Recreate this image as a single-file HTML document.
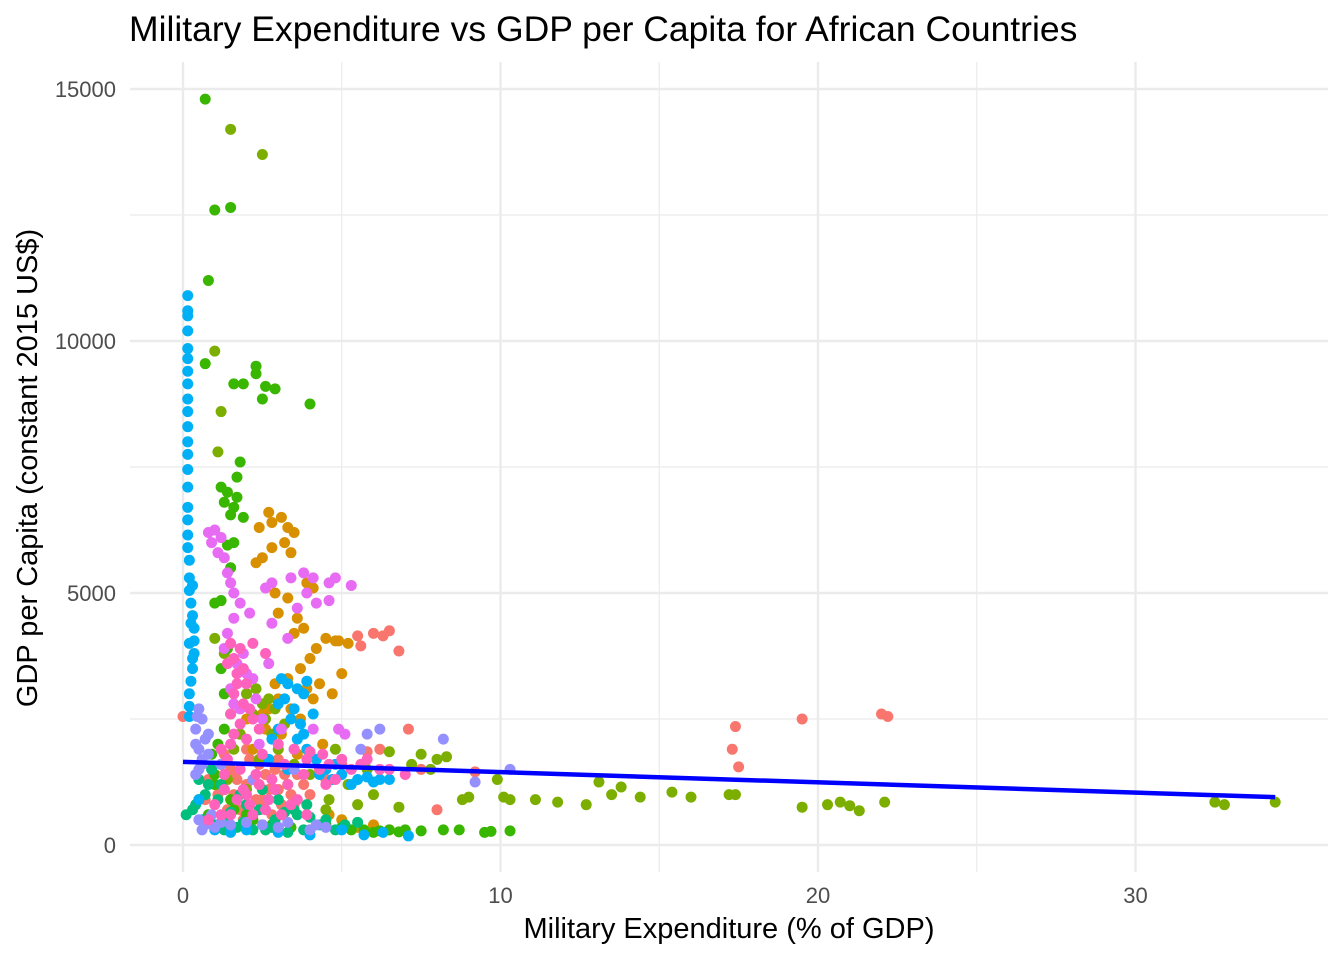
<!DOCTYPE html>
<html><head><meta charset="utf-8"><style>
html,body{margin:0;padding:0;background:#fff;}
svg text{font-family:"Liberation Sans",sans-serif;}
</style></head><body>
<svg id="chart" width="1344" height="960">
<text x="129" y="41" font-size="35.5" fill="#000">Military Expenditure vs GDP per Capita for African Countries</text>
<g id="grid"></g>
<g id="points"></g>
<g id="fit"></g>
<g id="axes"></g>
<text x="729" y="938" font-size="29" text-anchor="middle" fill="#000">Military Expenditure (% of GDP)</text>
<text transform="translate(37,468) rotate(-90)" font-size="29" text-anchor="middle" fill="#000">GDP per Capita (constant 2015 US$)</text>
</svg>
<script>
const xTicks=[0,10,20,30];
const yTicks=[0,5000,10000,15000];
const xMinor=[5,15,25];
const yMinor=[2500,7500,12500];
const colors=["#F8766D","#D89000","#7CAE00","#39B600","#00BF7D","#00B0F6","#9590FF","#E76BF3","#FF62BC"];
const seriesRed=[[0,2550],[5.5,4150],[5.6,3950],[6,4200],[6.3,4150],[6.5,4250],[6.8,3850],[7.1,2300],[6.2,1900],[5.8,1850],[7.5,1500],[8.0,700],[17.4,2350],[17.3,1900],[17.5,1550],[19.5,2500],[22,2600],[22.2,2550],[1.5,1500],[2,1200],[2.5,900],[3,1100],[1.8,700],[2.2,500],[3.5,800],[4,1000],[1.2,400],[2.8,600],[3.2,1400],[1.6,1000],[2.4,1600],[0.8,1300],[9.2,1450],[4.5,1300],[5,1600],[1.3,1800],[1.7,1300],[2.1,1700],[2.6,1400],[3.0,1700],[3.4,1000],[3.8,1200],[1.4,700],[1.9,500],[2.3,900],[2.7,1100],[3.1,800],[1.1,1000],[1.6,1400],[2.0,1900],[2.9,1500],[3.6,1400],[4.2,1700],[0.7,900]];
const seriesOrange=[[2.7,6600],[3.1,6500],[3.3,6300],[2.8,6400],[3.5,6200],[2.4,6300],[3.2,6000],[2.8,5900],[2.5,5700],[3.4,5800],[2.3,5600],[3.9,5200],[4.1,5100],[2.9,5000],[3.3,4900],[3.0,4600],[3.6,4500],[3.8,4300],[3.5,4200],[4.5,4100],[4.8,4050],[4.2,3900],[4.0,3700],[3.7,3500],[3.3,3300],[4.3,3200],[4.7,3000],[5.0,3400],[3.0,2900],[2.7,2700],[2.5,2600],[2.0,2500],[4.9,4050],[5.2,4000],[3.1,2200],[2.2,1900],[3.6,1800],[4.4,2000],[1.8,2200],[6,400],[5.5,350],[6.5,300],[5,500],[4.6,600],[3.4,2700],[3.9,3100],[4.1,2900],[2.6,2300],[2.9,3200],[3.7,2500]];
const seriesOlive=[[1.5,14200],[2.5,13700],[1.0,9800],[1.2,8600],[1.1,7800],[1.0,4100],[1.3,3800],[2,3000],[2.5,2800],[2.9,2700],[2.6,2500],[3.2,2400],[1.8,2200],[4.8,1900],[6.5,1850],[7.5,1800],[8.0,1700],[8.3,1750],[7.2,1600],[7.8,1500],[8.8,900],[9,950],[9.9,1300],[10.1,950],[10.3,900],[11.1,900],[11.8,850],[12.7,800],[13.1,1250],[13.5,1000],[13.8,1150],[14.4,950],[15.4,1050],[16,950],[17.2,1000],[17.4,1000],[19.5,750],[20.3,800],[20.7,850],[21,780],[21.3,680],[22.1,850],[32.5,850],[32.8,800],[34.4,850],[5.5,800],[6.8,750],[4.5,700],[5.8,1500],[2.2,2600],[2.8,2200],[3.0,1900],[2.4,1700],[1.6,1900],[3.5,1600],[4.0,1400],[4.6,900],[5.2,1200],[6.0,1000],[2.0,1100],[1.4,1300],[3.3,1200],[2.7,2900],[2.3,3100]];
const seriesGreen=[[0.7,14800],[1.0,12600],[1.5,12650],[0.8,11200],[0.7,9550],[2.3,9500],[2.3,9350],[1.6,9150],[1.9,9150],[2.6,9100],[2.9,9050],[2.5,8850],[4.0,8750],[1.8,7600],[1.7,7300],[1.2,7100],[1.4,7000],[1.3,6800],[1.6,6700],[1.5,6550],[1.9,6500],[1.7,6900],[1.4,5950],[1.6,6000],[1.5,5500],[1.2,4850],[1.0,4800],[0.9,1800],[1,1400],[1.3,1100],[1.5,900],[2,600],[2.5,400],[3,350],[4,300],[5,350],[5.7,300],[6.5,300],[7,300],[7.5,280],[8.2,300],[8.7,300],[9.5,250],[9.7,270],[10.3,280],[6,250],[0.5,900],[0.8,600],[1.2,1600],[1.1,2000],[1.3,2300],[1.0,1200],[1.6,700],[2.2,500],[2.8,400],[3.4,350],[4.5,400],[5.3,300],[6.2,280],[6.8,260],[1.4,3900],[1.2,3500],[1.3,3000],[1.5,2600]];
const seriesTeal=[[0.1,600],[0.3,700],[0.6,500],[1,400],[1.3,300],[1.7,350],[2.2,300],[2.8,350],[3.3,250],[3.8,300],[4.3,400],[1.2,1200],[0.9,1500],[2.5,1100],[3,900],[3.5,700],[4.5,500],[5.5,450],[2,800],[1.5,650],[0.7,1000],[3.6,600],[4.8,300],[0.4,800],[0.8,1200],[1.1,900],[1.4,500],[1.9,450],[2.4,700],[2.9,500],[3.2,650],[4.0,550],[0.5,1300],[1.8,1000],[2.6,300],[3.9,800],[5.1,400]];
const seriesBlue=[[0.15,10900],[0.15,10600],[0.15,10500],[0.15,10200],[0.15,9850],[0.15,9650],[0.15,9400],[0.15,9150],[0.15,8850],[0.15,8600],[0.15,8300],[0.15,8000],[0.15,7750],[0.15,7450],[0.15,7100],[0.15,6700],[0.15,6450],[0.15,6150],[0.15,5900],[0.2,5650],[0.2,5300],[0.2,5050],[0.25,4800],[0.3,4550],[0.35,4300],[0.35,4050],[0.35,3800],[0.3,3500],[0.25,3250],[0.2,3000],[0.2,2750],[0.2,2550],[3.1,3300],[3.3,3200],[3.6,3100],[3.8,3000],[3.9,3250],[3.2,2900],[3.5,2700],[3.4,2500],[3.0,2300],[3.6,2100],[3.9,1900],[4.2,1700],[4.5,1500],[4.7,1300],[5.0,1400],[5.5,1300],[6.0,1250],[6.5,1300],[3.3,1500],[2.7,1700],[0.5,900],[1,300],[1.5,250],[2,300],[3,250],[4,200],[5,300],[5.7,200],[6.3,250],[7.1,180],[0.2,4000],[0.3,3700],[0.25,4400],[0.3,5150],[3.7,2400],[4.0,1800],[4.3,1400],[4.8,1600],[5.3,1200],[5.8,1350],[3.5,1900],[3.8,2200],[4.1,2600],[3.0,2800],[2.8,2100],[6.2,1300]];
const seriesLav=[[0.5,2700],[0.6,2500],[0.4,2300],[0.7,2100],[0.5,1900],[0.8,1800],[0.6,1600],[0.4,1400],[0.5,500],[0.7,400],[0.6,300],[1,350],[1.5,400],[2,450],[3,350],[4,300],[4.5,350],[6.2,2300],[5.8,2200],[8.2,2100],[9.2,1250],[10.3,1500],[5.6,1900],[1.2,1600],[2.2,1300],[3.5,1500],[0.4,2000],[0.6,1700],[0.8,2200],[0.5,1500],[0.9,600],[1.2,450],[2.5,400],[3.3,450],[4.2,400],[0.45,2550]];
const seriesMag=[[0.8,6200],[1,6250],[1.2,6100],[0.9,6000],[1.1,5800],[1.3,5700],[1.4,5400],[1.5,5200],[1.6,5000],[1.8,4800],[2.6,5100],[2.8,5200],[3.4,5300],[3.8,5400],[4.1,5300],[4.6,5200],[4.8,5300],[5.3,5150],[3.9,5000],[4.2,4800],[4.6,4850],[2.1,4600],[1.6,4500],[2.8,4400],[1.3,3900],[1.7,3600],[2,3400],[1.5,3100],[2.3,2900],[1.8,2700],[2.5,2500],[3.1,2300],[4.1,2300],[4.9,2300],[5.1,2200],[2.4,2000],[1.4,4200],[1.9,3800],[2.2,3300],[1.6,2800],[2.7,3600],[3.3,4100],[3.6,4700]];
const seriesPink=[[1.5,4000],[1.8,3900],[2.2,4000],[2.6,3800],[1.4,3600],[1.7,3400],[2.0,3200],[1.6,3000],[1.9,2800],[1.5,2600],[2.2,2500],[2.4,2300],[1.6,2200],[2.0,2100],[3.0,2000],[3.5,1900],[4.0,1850],[4.4,1800],[5.0,1700],[5.6,1600],[6.2,1500],[7,1400],[1.2,1900],[1.4,1700],[1.8,1500],[2.3,1400],[2.8,1300],[3.3,1200],[3.8,1400],[4.3,1500],[4.8,1300],[1.3,1100],[1.7,900],[2.1,800],[2.6,700],[3.1,600],[3.6,900],[1.0,800],[1.5,600],[0.8,500],[2.0,1000],[2.9,1100],[1.6,3700],[1.9,3500],[1.7,3200],[2.1,2700],[1.8,2400],[1.5,2000],[2.5,1800],[3.2,1600],[3.9,1700],[4.6,1600],[5.3,1500],[1.3,1400],[2.4,1200],[1.9,1100],[2.7,900],[3.4,800],[1.2,600],[2.2,600],[3.9,600],[4.5,1200],[5.8,1700],[6.5,1500]];
const allSeries=[[seriesRed,0],[seriesOrange,1],[seriesOlive,2],[seriesGreen,3],[seriesTeal,4],[seriesBlue,5],[seriesLav,6],[seriesMag,7],[seriesPink,8]];
const fitX=[0,34.4];
const fitY=[1650,950];

const NS="http://www.w3.org/2000/svg";
const X=v=>183+v*31.75;
const Y=v=>845-v*0.0504;
const PL=130,PR=1328,PT=62,PB=872;
function mk(tag,at,parent){const e=document.createElementNS(NS,tag);for(const k in at)e.setAttribute(k,at[k]);parent.appendChild(e);return e;}
const grid=document.getElementById('grid'),axes=document.getElementById('axes'),pts=document.getElementById('points'),fit=document.getElementById('fit');
xMinor.forEach(v=>{const l=mk('line',{x1:X(v),x2:X(v),y1:PT,y2:PB,stroke:'#ebebeb','stroke-width':1.2},grid);

});
yMinor.forEach(v=>{const l=mk('line',{x1:PL,x2:PR,y1:Y(v),y2:Y(v),stroke:'#ebebeb','stroke-width':1.2},grid);

});
xTicks.forEach(v=>{const l=mk('line',{x1:X(v),x2:X(v),y1:PT,y2:PB,stroke:'#ebebeb','stroke-width':2.4},grid);


const t=mk('text',{x:X(v),y:903,'font-size':22,'text-anchor':'middle',fill:'#4d4d4d'},axes);t.textContent=v;

});
yTicks.forEach(v=>{const l=mk('line',{x1:PL,x2:PR,y1:Y(v),y2:Y(v),stroke:'#ebebeb','stroke-width':2.4},grid);


const t=mk('text',{x:116,y:Y(v)+8,'font-size':22,'text-anchor':'end',fill:'#4d4d4d'},axes);t.textContent=v;

});
allSeries.forEach(([s,ci])=>{s.forEach(([x,y])=>{const c=mk('circle',{cx:X(x),cy:Y(y),r:5.5,fill:colors[ci]},pts);

});});
const fl=mk('line',{x1:X(fitX[0]),y1:Y(fitY[0]),x2:X(fitX[1]),y2:Y(fitY[1]),stroke:'#0000ff','stroke-width':4.5},fit);


</script>
</body></html>
